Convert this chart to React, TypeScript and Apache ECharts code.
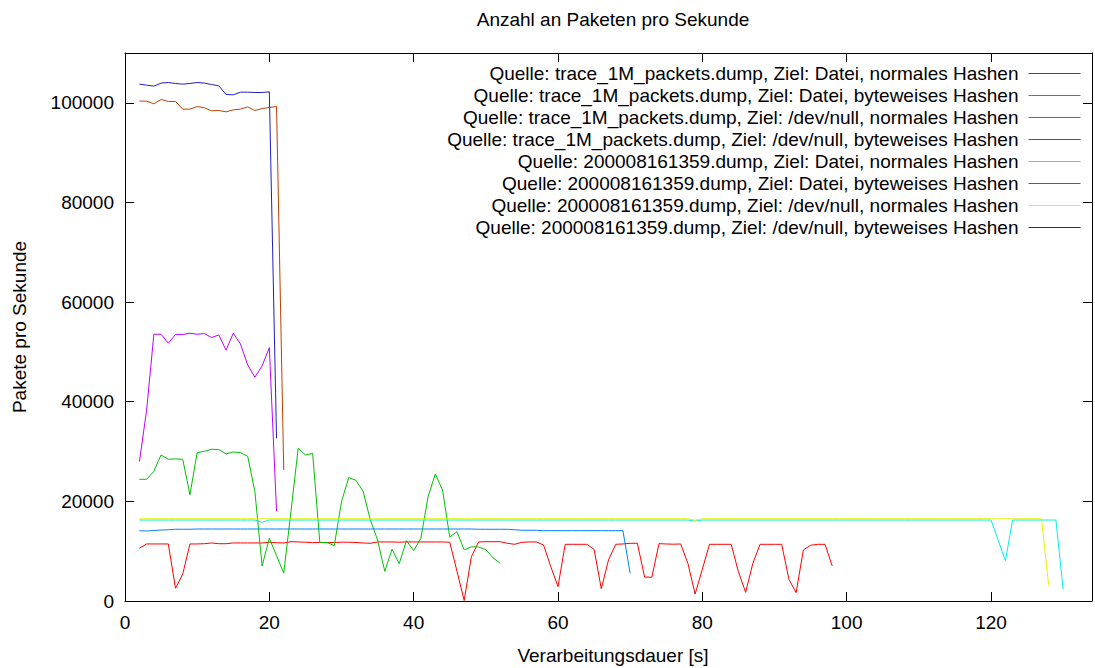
import React, { useEffect, useRef } from 'react';
import * as echarts from 'echarts';

const TITLE = 'Anzahl an Paketen pro Sekunde';
const X_NAME = 'Verarbeitungsdauer [s]';
const Y_NAME = 'Pakete pro Sekunde';

const X_START = 2;
const X_MIN = 0;
const X_MAX = 134;
const X_INTERVAL = 20;
const Y_MIN = 0;
const Y_MAX = 110000;
const Y_INTERVAL = 20000;

const seriesNames = [
  'Quelle: trace_1M_packets.dump, Ziel: Datei, normales Hashen',
  'Quelle: trace_1M_packets.dump, Ziel: Datei, byteweises Hashen',
  'Quelle: trace_1M_packets.dump, Ziel: /dev/null, normales Hashen',
  'Quelle: trace_1M_packets.dump, Ziel: /dev/null, byteweises Hashen',
  'Quelle: 200008161359.dump, Ziel: Datei, normales Hashen',
  'Quelle: 200008161359.dump, Ziel: Datei, byteweises Hashen',
  'Quelle: 200008161359.dump, Ziel: /dev/null, normales Hashen',
  'Quelle: 200008161359.dump, Ziel: /dev/null, byteweises Hashen',
];

const seriesColors = ['#ff0000', '#00c000', '#0080ff', '#c000ff', '#00eeee', '#c04000', '#eeee00', '#2020c0'];

// values for x = 2, 3, 4, ...
const traceDateiNormal = [
  10600, 11450, 11450, 11450, 11450, 2550, 5400, 11450, 11450, 11500,
  11650, 11500, 11500, 11650, 11650, 11650, 11650, 11650, 11780, 11700,
  11650, 11910, 11850, 11800, 11710, 11750, 11700, 11750, 11800, 11800,
  11750, 11650, 11580, 11850, 11850, 11850, 11800, 11850, 11850, 11850,
  11850, 11850, 11850, 11800, 6000, 100, 8900, 11850, 11900, 11900,
  11900, 11580, 11380, 11780, 11850, 11850, 11240, 6900, 2880, 11380,
  11380, 11380, 11380, 10370, 2480, 8230, 11380, 11450, 11580, 11580,
  4820, 4750, 11510, 11450, 11400, 11450, 7560, 1400, 6360, 11380,
  11380, 11380, 11380, 5890, 1740, 7560, 11380, 11380, 11380, 11380,
  4350, 1670, 10240, 11180, 11380, 11380, 7030,
];

const traceDateiByte = [
  24430, 24430, 26040, 29320, 28450, 28520, 28450, 21350, 29780, 30050,
  30460, 30390, 29520, 29920, 29780, 29050, 21950, 7030, 12590, 9100,
  5600, 18000, 30660, 29320, 29650, 11710, 11750, 11100, 19940, 24760,
  24230, 22020, 16270, 12250, 5950, 10400, 7500, 12110, 10100, 12590,
  20940, 25500, 22290, 12850, 13920, 10270, 10870, 10840, 10300, 8670,
  7570,
];

const traceNullNormal = [
  14100, 14050, 14150, 14250, 14300, 14400, 14400, 14400, 14450, 14450,
  14450, 14450, 14450, 14450, 14450, 14450, 14450, 14450, 14450, 14450,
  14450, 14450, 14450, 14450, 14450, 14450, 14450, 14450, 14450, 14450,
  14450, 14450, 14450, 14450, 14450, 14450, 14450, 14450, 14450, 14450,
  14450, 14450, 14450, 14450, 14450, 14450, 14450, 14400, 14400, 14400,
  14400, 14400, 14300, 14200, 14200, 14200, 14120, 14120, 14120, 14120,
  14120, 14120, 14120, 14120, 14120, 14120, 14120, 14120, 5560,
];

const traceNullByte = [
  27970, 38350, 53550, 53550, 51740, 53480, 53480, 53750, 53550, 53680,
  52880, 53420, 50340, 53750, 51600, 47390, 44920, 47190, 50870, 18000,
];

const dumpDateiNormal = [
  16250, 16250, 16250, 16250, 16250, 16250, 16250, 16250, 16250, 16250,
  16250, 16250, 16250, 16250, 16250, 16250, 16250, 15800, 16250, 16250,
  16250, 16250, 16250, 16250, 16250, 16250, 16250, 16250, 16250, 16250,
  16250, 16250, 16250, 16250, 16250, 16250, 16250, 16250, 16250, 16250,
  16250, 16250, 16250, 16250, 16250, 16250, 16250, 16250, 16250, 16250,
  16250, 16250, 16250, 16250, 16250, 16250, 16250, 16250, 16250, 16250,
  16250, 16250, 16250, 16250, 16250, 16250, 16250, 16250, 16250, 16250,
  16250, 16250, 16250, 16250, 16250, 16250, 16250, 16050, 16250, 16250,
  16250, 16250, 16250, 16250, 16250, 16250, 16250, 16250, 16250, 16250,
  16250, 16250, 16250, 16250, 16250, 16250, 16250, 16250, 16250, 16250,
  16250, 16250, 16250, 16250, 16250, 16250, 16250, 16250, 16250, 16250,
  16250, 16250, 16250, 16250, 16250, 16250, 16250, 16250, 16250, 12200,
  8100, 16250, 16250, 16250, 16250, 16250, 16250, 16250, 2340,
];

const dumpDateiByte = [
  100340, 100340, 99800, 100670, 100270, 100270, 98730, 98730, 99260, 98990,
  98390, 98460, 98190, 98590, 98730, 99190, 98460, 98860, 99060, 99260,
  26300,
];

const dumpNullNormal = [
  16500, 16500, 16500, 16500, 16500, 16500, 16500, 16500, 16500, 16500,
  16500, 16500, 16500, 16500, 16500, 16500, 16500, 16500, 16500, 16500,
  16500, 16500, 16500, 16500, 16500, 16500, 16500, 16500, 16500, 16500,
  16500, 16500, 16500, 16500, 16500, 16500, 16500, 16500, 16500, 16500,
  16500, 16500, 16500, 16500, 16500, 16500, 16500, 16500, 16500, 16500,
  16500, 16500, 16500, 16500, 16500, 16500, 16500, 16500, 16500, 16500,
  16500, 16500, 16500, 16500, 16500, 16500, 16500, 16500, 16500, 16500,
  16500, 16500, 16500, 16500, 16500, 16500, 16500, 16200, 16500, 16500,
  16500, 16500, 16500, 16500, 16500, 16500, 16500, 16500, 16500, 16500,
  16500, 16500, 16500, 16500, 16500, 16500, 16500, 16500, 16500, 16500,
  16500, 16500, 16500, 16500, 16500, 16500, 16500, 16500, 16500, 16500,
  16500, 16500, 16500, 16500, 16500, 16500, 16500, 16500, 16500, 16500,
  16500, 16500, 16500, 16500, 16500, 16500, 3150,
];

const dumpNullByte = [
  103750, 103550, 103350, 103950, 104080, 103880, 103750, 103880, 104080, 103950,
  103680, 103410, 101670, 101600, 102140, 102140, 102070, 102070, 102200, 32670,
];

const seriesValues = [
  traceDateiNormal,
  traceDateiByte,
  traceNullNormal,
  traceNullByte,
  dumpDateiNormal,
  dumpDateiByte,
  dumpNullNormal,
  dumpNullByte,
];

const toPairs = (vals: number[]) => vals.map((v, i) => [X_START + i, v]);

const FONT = "'Liberation Sans', Arial, sans-serif";
const FS = 19;

export default function App() {
  const ref = useRef<HTMLDivElement>(null);
  useEffect(() => {
    const chart = echarts.init(ref.current!, null, { renderer: 'svg' });
    const axisLineStyle = { color: '#000', width: 1 };
    const labelStyle = { fontSize: FS, color: '#000', fontFamily: FONT };
    chart.setOption({
      animation: false,
      backgroundColor: '#fff',
      textStyle: { fontFamily: FONT },
      grid: { left: 125, right: 1, top: 53, bottom: 67, containLabel: false },
      legend: {
        orient: 'vertical',
        right: 14,
        top: 64,
        align: 'right',
        padding: 0,
        itemWidth: 52,
        itemHeight: 14,
        itemGap: 3,
        itemStyle: { opacity: 0 },
        lineStyle: { width: 1 },
        textStyle: { ...labelStyle, padding: [0, 5, 0, 0] },
        data: seriesNames,
        selectedMode: false,
      },
      xAxis: [
        {
          type: 'value',
          position: 'bottom',
          min: X_MIN,
          max: X_MAX,
          interval: X_INTERVAL,
          axisLine: { show: true, onZero: false, lineStyle: axisLineStyle },
          axisTick: { show: true, inside: true, length: 9, lineStyle: axisLineStyle },
          axisLabel: {
            ...labelStyle,
            margin: 12,
            formatter: (v: number) => (v % X_INTERVAL === 0 ? String(v) : ''),
          },
          splitLine: { show: false },
        },
        {
          type: 'value',
          position: 'top',
          min: X_MIN,
          max: X_MAX,
          interval: X_INTERVAL,
          axisLine: { show: true, onZero: false, lineStyle: axisLineStyle },
          axisTick: { show: true, inside: true, length: 9, lineStyle: axisLineStyle },
          axisLabel: { show: false },
          splitLine: { show: false },
        },
      ],
      yAxis: [
        {
          type: 'value',
          position: 'left',
          min: Y_MIN,
          max: Y_MAX,
          interval: Y_INTERVAL,
          axisLine: { show: true, onZero: false, lineStyle: axisLineStyle },
          axisTick: { show: true, inside: true, length: 9, lineStyle: axisLineStyle },
          axisLabel: {
            ...labelStyle,
            margin: 11,
            formatter: (v: number) => (v % Y_INTERVAL === 0 ? String(v) : ''),
          },
          splitLine: { show: false },
        },
        {
          type: 'value',
          position: 'right',
          min: Y_MIN,
          max: Y_MAX,
          interval: Y_INTERVAL,
          axisLine: { show: true, onZero: false, lineStyle: axisLineStyle },
          axisTick: { show: true, inside: true, length: 9, lineStyle: axisLineStyle },
          axisLabel: { show: false },
          splitLine: { show: false },
        },
      ],
      graphic: [
        {
          type: 'text',
          x: 613,
          y: 19.5,
          style: { text: TITLE, fontSize: FS, fontFamily: FONT, fill: '#000', textAlign: 'center', textVerticalAlign: 'middle' },
        },
        {
          type: 'text',
          x: 613,
          y: 655.5,
          style: { text: X_NAME, fontSize: FS, fontFamily: FONT, fill: '#000', textAlign: 'center', textVerticalAlign: 'middle' },
        },
        {
          type: 'text',
          x: 19.6,
          y: 327,
          rotation: Math.PI / 2,
          style: { text: Y_NAME, fontSize: FS, fontFamily: FONT, fill: '#000', textAlign: 'center', textVerticalAlign: 'middle' },
        },
      ],
      series: seriesNames.map((name, i) => ({
        name,
        type: 'line',
        xAxisIndex: 0,
        yAxisIndex: 0,
        data: toPairs(seriesValues[i]),
        symbol: 'none',
        showSymbol: false,
        color: seriesColors[i],
        lineStyle: { width: 1, color: seriesColors[i] },
        itemStyle: { color: seriesColors[i] },
        emphasis: { disabled: true },
        z: 2 + i * 0.01,
      })),
    });
    return () => chart.dispose();
  }, []);
  return <div ref={ref} style={{ position: 'fixed', left: 0, top: 0, width: 1095, height: 668 }} />;
}
